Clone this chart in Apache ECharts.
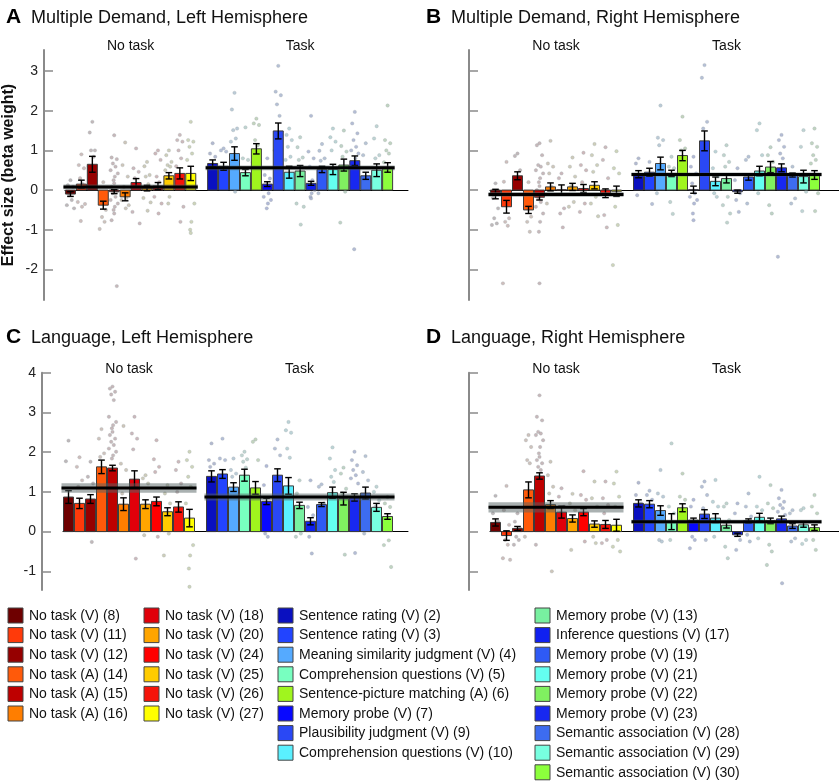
<!DOCTYPE html>
<html><head><meta charset="utf-8">
<script src="https://cdn.jsdelivr.net/npm/echarts@6/dist/echarts.min.js"></script>
<style>html,body{margin:0;padding:0;background:#fff}#c{width:839px;height:782px}</style>
</head><body><div id="c"></div>
<script>
const FONT = 'Liberation Sans, Arial, Helvetica, sans-serif';

// ---- categories & colours ----
const noTaskLabels = ['No task (V) (8)','No task (V) (11)','No task (V) (12)','No task (A) (14)','No task (A) (15)','No task (A) (16)',
  'No task (V) (18)','No task (V) (20)','No task (V) (24)','No task (V) (25)','No task (V) (26)','No task (V) (27)'];
const noTaskColors = ['#6e0000','#ff3a0a','#960000','#ff5a0a','#be0000','#ff7e00','#e0000a','#ffa500','#ff0000','#ffcc00','#f5140a','#ffff00'];
const taskLabels = ['Sentence rating (V) (2)','Sentence rating (V) (3)','Meaning similarity judgment (V) (4)','Comprehension questions (V) (5)',
  'Sentence-picture matching (A) (6)','Memory probe (V) (7)','Plausibility judgment (V) (9)','Comprehension questions (V) (10)',
  'Memory probe (V) (13)','Inference questions (V) (17)','Memory probe (V) (19)','Memory probe (V) (21)','Memory probe (V) (22)',
  'Memory probe (V) (23)','Semantic association (V) (28)','Semantic association (V) (29)','Semantic association (V) (30)'];
const taskColors = ['#0a10c0','#2244ff','#55aaff','#78ffc0','#a0f51e','#0808ff','#2a48f5','#5af0ff','#78f0a0','#1020f0','#2f5af5',
  '#64fff0','#80f060','#1828f0','#3d6cf0','#78ffe0','#8cff3c'];
const groupTitles = ['No task', 'Task'];
const yTicksMD = [-2, -1, 0, 1, 2, 3];
const yTicksLang = [-1, 0, 1, 2, 3, 4];
const yAxisTitle = 'Effect size (beta weight)';

// ---- A: Multiple Demand, Left ----
const mdLeftNoTask   = [-0.10, 0.15, 0.65, -0.38, -0.04, -0.17, 0.19, 0.05, 0.10, 0.36, 0.42, 0.42];
const mdLeftNoTaskSE = [0.06, 0.10, 0.20, 0.10, 0.05, 0.10, 0.10, 0.07, 0.09, 0.08, 0.14, 0.18];
const mdLeftTask     = [0.67, 0.60, 0.92, 0.44, 1.04, 0.15, 1.49, 0.45, 0.48, 0.17, 0.52, 0.52, 0.63, 0.74, 0.36, 0.50, 0.57];
const mdLeftTaskSE   = [0.09, 0.10, 0.17, 0.08, 0.13, 0.06, 0.20, 0.15, 0.14, 0.05, 0.08, 0.13, 0.15, 0.12, 0.09, 0.16, 0.12];
const mdLeftMeans    = [0.08, 0.56];
const mdLeftMeanSE   = [0.06, 0.06];
const mdLeftNoTaskDots = [
  [0.25,0.12,0.08,-0.13,-0.25,-0.38,-0.46],
  [0.9,0.63,0.55,0.3,0.15,-0.3,-0.35,-0.42,-0.78],
  [1.72,1.45,1.0,1.0,0.84,0.6,0.38,0.2],
  [0.2,-0.3,-0.5,-0.68,-0.8,-0.98],
  [1.38,0.82,0.78,0.67,0.59,0.5,0.42,0.34,0.25,0.17,0.08,-0.04,-0.08,-0.17,-0.25,-0.34,-0.42,-0.5,-0.59,-0.76,-2.42],
  [1.2,0.63,0.34,0.08,-0.2,-0.25,-0.38,-0.46],
  [1.05,0.55,0.46,0.3,0.1,-0.55,-0.84],
  [0.71,0.6,0.38,0.34,0.15,-0.2,-0.31,-0.52],
  [1.0,0.92,0.76,0.34,0.2,-0.17,-0.34,-0.59],
  [1.0,0.88,0.71,0.63,0.59,0.5,0.3,-0.17,-0.34],
  [1.39,1.26,1.22,1.0,0.8,0.6,-0.42,-0.8],
  [1.72,1.26,1.22,1.09,0.92,0.76,-0.34,-0.8,-1.0,-1.08]
];
const mdLeftTaskDots = [
  [1.18,0.92,0.84,0.5,0.3],
  [1.05,1.0,0.97,0.3,0.08],
  [2.45,2.03,1.55,1.51,1.3,1.22,0.6,-0.04],
  [1.58,0.8,0.76,0.25,0.1],
  [1.8,1.68,1.64,1.26,1.13,0.7],
  [0.8,0.38,0.29,0.08,-0.08,-0.17,-0.25,-0.34,-0.46],
  [3.13,2.48,2.39,2.16,1.87,1.0],
  [1.55,1.39,1.26,1.09,0.84,0.76],
  [1.33,1.08,0.82,0.76,0.08,-0.34,-0.42,-0.87],
  [1.87,0.97,0.8,0.59,0.25,0.08,0.0,-0.08,-0.17,-0.21],
  [1.16,0.99,0.8,0.74,0.3,-0.08],
  [1.55,1.33,1.22,1.0,0.08],
  [1.5,1.11,0.97,0.84,-0.04,-0.82],
  [1.97,1.68,1.43,1.26,1.09,1.0,0.92,0.8,-1.49],
  [1.18,0.88,0.2,0.13],
  [1.61,1.3,0.88,0.8,0.1],
  [2.13,1.26,1.18,1.0,0.92,0.7]
];

// ---- B: Multiple Demand, Right ----
const mdRightNoTask   = [-0.10, -0.42, 0.36, -0.50, -0.18, 0.08, 0.01, 0.08, 0.04, 0.12, -0.08, -0.03];
const mdRightNoTaskSE = [0.12, 0.16, 0.10, 0.09, 0.07, 0.10, 0.12, 0.09, 0.10, 0.09, 0.11, 0.13];
const mdRightTask     = [0.40, 0.45, 0.67, 0.42, 0.87, 0.01, 1.24, 0.22, 0.29, -0.04, 0.33, 0.48, 0.58, 0.56, 0.38, 0.34, 0.38];
const mdRightTaskSE   = [0.09, 0.10, 0.16, 0.08, 0.13, 0.09, 0.25, 0.11, 0.11, 0.04, 0.08, 0.12, 0.14, 0.10, 0.05, 0.16, 0.11];
const mdRightMeans    = [-0.11, 0.39];
const mdRightMeanSE   = [0.06, 0.05];
const mdRightNoTaskDots = [
  [0.17,-0.2,-0.46,-0.71,-0.84,-0.88],
  [0.71,0.21,-0.71,-0.8,-0.9,-2.35],
  [0.92,0.86,0.5,0.2],
  [0.2,-0.42,-0.67,-0.8,-1.05],
  [1.18,1.13,0.88,0.63,0.59,0.5,0.42,0.3,0.2,0.1,0.0,-0.1,-0.2,-0.3,-0.42,-0.59,-0.8,-1.05,-2.35],
  [1.24,0.67,0.59,0.42,0.08,-0.34],
  [0.42,0.3,-0.46,-0.59,-0.94],
  [0.82,0.59,0.34,0.1,-0.3,-0.42],
  [0.94,0.63,0.5,0.2,-0.34,-0.55],
  [1.16,0.88,0.63,0.46,-0.17,-0.34,-0.66],
  [1.08,0.76,0.3,-0.63,-0.94],
  [0.98,0.55,0.42,-0.42,-0.88,-1.89]
];
const mdRightTaskDots = [
  [0.8,0.67,0.3,-0.13],
  [0.71,0.2,-0.35],
  [2.13,1.32,1.26,1.13,0.5,-0.08],
  [0.84,0.59,0.55,-0.3,-0.6],
  [1.85,1.26,1.05,1.0,0.6],
  [0.84,0.59,0.42,0.17,-0.08,-0.17,-0.25,-0.34,-0.59,-0.76],
  [3.15,2.83,1.72,1.55],
  [0.97,0.55,0.34,-0.08,-0.17],
  [1.13,0.88,0.71,0.59,-0.17,-0.38,-0.59,-0.82],
  [0.55,0.25,-0.08,-0.25,-0.55],
  [0.84,0.76,0.2,-0.34],
  [1.68,1.51,0.88,-0.08],
  [1.08,0.88,0.71,-0.38,-0.59],
  [1.39,1.26,1.09,0.92,0.8,-1.68],
  [0.59,0.34,-0.21,-0.34],
  [1.51,1.09,-0.04,-0.53],
  [1.55,1.18,1.09,0.88,0.76,0.67,-0.08,-0.53]
];

// ---- C: Language, Left ----
const langLeftNoTask   = [0.87, 0.71, 0.82, 1.63, 1.60, 0.69, 1.32, 0.69, 0.76, 0.50, 0.62, 0.34];
const langLeftNoTaskSE = [0.16, 0.13, 0.11, 0.17, 0.07, 0.16, 0.21, 0.11, 0.11, 0.10, 0.13, 0.22];
const langLeftTask     = [1.39, 1.45, 1.12, 1.42, 1.10, 0.76, 1.42, 1.15, 0.66, 0.26, 0.68, 0.98, 0.83, 0.86, 0.97, 0.61, 0.38];
const langLeftTaskSE   = [0.14, 0.11, 0.11, 0.15, 0.16, 0.08, 0.16, 0.21, 0.08, 0.09, 0.05, 0.14, 0.16, 0.09, 0.15, 0.10, 0.07];
const langLeftMeans    = [1.10, 0.87];
const langLeftMeanSE   = [0.12, 0.09];
const langLeftNoTaskDots = [
  [2.29,1.77,0.58],
  [1.87,1.63,1.29,1.13],
  [1.76,1.38,1.21,0.5,-0.26],
  [2.58,2.34,1.97,1.88],
  [3.65,3.6,3.52,3.45,3.31,2.89,2.76,2.68,2.6,2.51,2.43,2.34,2.26,2.18,2.09,2.01,1.92,1.84],
  [2.66,1.71,1.55,0.96],
  [2.89,2.47,2.34,2.07,-0.68],
  [1.42,1.34,1.21,-0.09],
  [2.3,1.82,1.63,1.5,-0.13],
  [1.17,0.96,0.71,0.29,-0.05,-0.6],
  [1.76,1.55,1.21,1.0,0.16],
  [2.01,1.8,1.63,1.38,1.13,0.71,-0.34,-0.6,-0.93,-1.39]
];
const langLeftTaskDots = [
  [2.22,1.8,1.71,1.63],
  [2.34,1.84,1.8,1.2],
  [1.84,1.55,1.46,1.38],
  [2.01,1.92,1.82,1.76,1.61],
  [2.32,2.26,1.8],
  [1.65,1.17,0.71,-0.05,-0.13],
  [2.32,2.09,1.92],
  [2.76,2.55,2.49,2.09,1.86],
  [1.29,0.96,0.58,0.37,-0.05,-0.13],
  [1.29,0.62,0.41,-0.13,-0.55],
  [1.19,1.13,0.71,0.29],
  [2.12,1.84,1.55,1.38,1.25],
  [1.61,1.46,1.08,0.96,-0.58],
  [2.01,1.8,1.67,1.55,1.42,1.34,1.21,-0.54],
  [1.9,1.5,1.29,-0.05],
  [1.13,1.0,0.79,0.62],
  [0.87,0.71,0.62,0.24,-0.22,-0.34,-0.89]
];

// ---- D: Language, Right ----
const langRightNoTask   = [0.23, -0.10, 0.08, 1.05, 1.40, 0.68, 0.49, 0.33, 0.49, 0.19, 0.18, 0.16];
const langRightNoTaskSE = [0.09, 0.12, 0.05, 0.20, 0.08, 0.10, 0.15, 0.09, 0.09, 0.08, 0.10, 0.15];
const langRightTask     = [0.71, 0.69, 0.53, 0.25, 0.60, 0.29, 0.44, 0.34, 0.16, -0.08, 0.27, 0.36, 0.27, 0.32, 0.14, 0.17, 0.10];
const langRightTaskSE   = [0.09, 0.09, 0.12, 0.20, 0.10, 0.05, 0.11, 0.11, 0.07, 0.04, 0.05, 0.10, 0.07, 0.07, 0.06, 0.06, 0.07];
const langRightMeans    = [0.61, 0.25];
const langRightMeanSE   = [0.13, 0.05];
const langRightNoTaskDots = [
  [0.9,0.46,0.25,0.1],
  [1.15,0.54,0.17,-0.21,-0.33,-0.67,-0.71],
  [0.46,0.25,0.08,-0.13,-0.21,-0.33],
  [2.43,2.3,2.13,1.8,1.72,-0.13],
  [3.43,2.89,2.8,2.51,2.47,2.43,2.3,2.13,1.97,1.88,1.8,1.72,1.63,1.55,-0.33],
  [1.76,1.42,1.13,0.96,-1.0],
  [1.09,0.88,0.63,0.46,0.13],
  [0.95,0.71,0.54,-0.46],
  [1.52,0.92,0.8,0.13,-0.25],
  [1.26,0.84,0.63,-0.13,-0.29],
  [1.26,0.84,0.67,0.46,-0.21,-0.29],
  [1.51,1.21,0.88,0.63,-0.21,-0.38,-0.5]
];
const langRightTaskDots = [
  [1.23,0.92,0.71,0.3],
  [1.03,0.92,0.8,0.2],
  [1.55,0.96,0.88,-0.21,-0.25],
  [2.22,0.63,0.46,-0.21],
  [1.46,0.88,0.8,0.3],
  [0.8,0.63,0.13,-0.13,-0.21,-0.42],
  [1.26,1.13,0.92,0.59,-0.21],
  [1.3,0.75,0.63,-0.13],
  [0.71,0.63,0.29,-0.38,-0.67],
  [0.71,0.46,-0.21,-0.46],
  [0.96,0.63,0.38,-0.08,-0.25],
  [1.38,0.63,0.54,-0.17],
  [1.17,0.71,0.59,-0.33,-0.5,-0.84],
  [1.05,0.84,0.75,0.67,0.59,0.5,0.42,-1.3],
  [0.54,0.46,-0.17,-0.25],
  [0.59,0.54,-0.21,-0.31],
  [0.92,0.63,0.46,-0.21,-0.46]
];

// ---- layout ----
const SLOT = 11;          // px per bar slot
const GAP_SLOTS = 1;      // empty slot between groups
const BAR_W = 10;
const panels = [
  {letter:'A', title:'Multiple Demand, Left Hemisphere', left:63, right:431, top:50, bottom:482, axisX:42, yMin:-2.77, yMax:3.53, ticks:yTicksMD, labels:true, tx:6, ty:7,
   nt:mdLeftNoTask, ntSE:mdLeftNoTaskSE, t:mdLeftTask, tSE:mdLeftTaskSE, means:mdLeftMeans, meanSE:mdLeftMeanSE, ntDots:mdLeftNoTaskDots, tDots:mdLeftTaskDots},
  {letter:'B', title:'Multiple Demand, Right Hemisphere', left:490, right:0, top:50, bottom:482, axisX:469, yMin:-2.77, yMax:3.53, ticks:yTicksMD, labels:false, tx:426, ty:7,
   nt:mdRightNoTask, ntSE:mdRightNoTaskSE, t:mdRightTask, tSE:mdRightTaskSE, means:mdRightMeans, meanSE:mdRightMeanSE, ntDots:mdRightNoTaskDots, tDots:mdRightTaskDots},
  {letter:'C', title:'Language, Left Hemisphere', left:63, right:431, top:372.7, bottom:192, axisX:42, yMin:-1.47, yMax:4, ticks:yTicksLang, labels:true, tx:6, ty:327,
   nt:langLeftNoTask, ntSE:langLeftNoTaskSE, t:langLeftTask, tSE:langLeftTaskSE, means:langLeftMeans, meanSE:langLeftMeanSE, ntDots:langLeftNoTaskDots, tDots:langLeftTaskDots},
  {letter:'D', title:'Language, Right Hemisphere', left:490, right:0, top:372.7, bottom:192, axisX:469, yMin:-1.47, yMax:4, ticks:yTicksLang, labels:false, tx:426, ty:327,
   nt:langRightNoTask, ntSE:langRightNoTaskSE, t:langRightTask, tSE:langRightTaskSE, means:langRightMeans, meanSE:langRightMeanSE, ntDots:langRightNoTaskDots, tDots:langRightTaskDots}
];
const W = 839, H = 782;

function hexRgb(h){h=h.replace('#','');return [parseInt(h.slice(0,2),16),parseInt(h.slice(2,4),16),parseInt(h.slice(4,6),16)];}
function dotColor(hex){const c=hexRgb(hex), g=[178,188,192], t=0.15;
  return 'rgba('+c.map((v,i)=>Math.round(v*t+g[i]*(1-t))).join(',')+',0.75)';}

const chart = echarts.init(document.getElementById('c'), null, {renderer:'canvas'});
const grid=[], xAxis=[], yAxis=[], series=[];
const taskStart = noTaskLabels.length + GAP_SLOTS;

panels.forEach((p, pi) => {
  const gw = W - p.left - p.right;
  grid.push({left:p.left, right:p.right, top:p.top, bottom:p.bottom, containLabel:false});
  xAxis.push({gridIndex:pi, type:'value', min:-0.5, max:-0.5 + gw/SLOT,
    axisLine:{show:true, onZero:true, lineStyle:{color:'#000', width:1}},
    axisTick:{show:false}, axisLabel:{show:false}, splitLine:{show:false}});
  yAxis.push({gridIndex:pi, type:'value', min:p.yMin, max:p.yMax, offset:p.left - p.axisX,
    name: pi === 0 ? yAxisTitle : '', nameLocation:'middle', nameGap:27, nameRotate:90,
    nameTextStyle:{fontFamily:FONT, fontSize:16, fontWeight:'bold', color:'#111'},
    axisLine:{show:true, onZero:false, lineStyle:{color:'#8a8a8a', width:2}},
    axisTick:{show:true, inside:true, length:9, customValues:p.ticks, lineStyle:{color:'#8a8a8a', width:1.5}},
    axisLabel:{show:p.labels, customValues:p.ticks, fontFamily:FONT, fontSize:14, color:'#222', margin:6},
    splitLine:{show:false}});

  // dots
  const dotData = [];
  p.ntDots.forEach((arr,i)=>arr.forEach((v,k)=>dotData.push({value:[i, v, k], itemStyle:{color:dotColor(noTaskColors[i])}})));
  p.tDots.forEach((arr,i)=>arr.forEach((v,k)=>dotData.push({value:[taskStart+i, v, k], itemStyle:{color:dotColor(taskColors[i])}})));
  const JIT = [0,-2.6,2.6,-1.3,1.3,-3.6,3.6,0.6,-0.6];
  series.push({type:'custom', xAxisIndex:pi, yAxisIndex:pi, z:1, silent:true, data:dotData, encode:{x:0,y:1},
    renderItem:(params, api)=>{const c=api.coord([api.value(0), api.value(1)]);
      return {type:'circle', shape:{cx:c[0]+JIT[api.value(2)%9], cy:c[1], r:1.7},
        style:{fill:api.visual('color'), stroke:'rgba(150,160,165,0.55)', lineWidth:0.5}};}});

  // bars
  const barData = [];
  p.nt.forEach((v,i)=>barData.push({value:[i, v], itemStyle:{color:noTaskColors[i]}}));
  p.t.forEach((v,i)=>barData.push({value:[taskStart+i, v], itemStyle:{color:taskColors[i]}}));
  series.push({type:'custom', xAxisIndex:pi, yAxisIndex:pi, z:2, silent:true, data:barData, encode:{x:0,y:1},
    renderItem:(params, api)=>{const a=api.coord([api.value(0),0]), b=api.coord([api.value(0), api.value(1)]);
      return {type:'rect', shape:{x:a[0]-BAR_W/2, y:Math.min(a[1],b[1]), width:BAR_W, height:Math.abs(b[1]-a[1])},
        style:{fill:api.visual('color'), stroke:'#3c3c3c', lineWidth:1}};}});

  // error bars
  const errData = [];
  p.nt.forEach((v,i)=>errData.push([i, v, p.ntSE[i]]));
  p.t.forEach((v,i)=>errData.push([taskStart+i, v, p.tSE[i]]));
  series.push({type:'custom', xAxisIndex:pi, yAxisIndex:pi, z:3, silent:true, data:errData, encode:{x:0,y:1},
    renderItem:(params, api)=>{const x=api.value(0), v=api.value(1), s=api.value(2);
      const hi=api.coord([x, v+s]), lo=api.coord([x, v-s]); const cw=3.3;
      const st={stroke:'#000', lineWidth:1.4};
      return {type:'group', children:[
        {type:'line', shape:{x1:hi[0], y1:hi[1], x2:lo[0], y2:lo[1]}, style:st},
        {type:'line', shape:{x1:hi[0]-cw, y1:hi[1], x2:hi[0]+cw, y2:hi[1]}, style:st},
        {type:'line', shape:{x1:lo[0]-cw, y1:lo[1], x2:lo[0]+cw, y2:lo[1]}, style:st}]};}});

  // group means with SE band
  const meanData = [
    [0, noTaskLabels.length-1, p.means[0], p.meanSE[0]],
    [taskStart, taskStart+taskLabels.length-1, p.means[1], p.meanSE[1]]];
  series.push({type:'custom', xAxisIndex:pi, yAxisIndex:pi, z:4, silent:true, data:meanData, encode:{x:[0,1],y:2},
    renderItem:(params, api)=>{const x0=api.coord([api.value(0), api.value(2)]), x1=api.coord([api.value(1), api.value(2)]);
      const hi=api.coord([api.value(0), api.value(2)+api.value(3)]), lo=api.coord([api.value(0), api.value(2)-api.value(3)]);
      const l=x0[0]-7, r=x1[0]+7;
      return {type:'group', children:[
        {type:'rect', shape:{x:l, y:hi[1], width:r-l, height:lo[1]-hi[1]}, style:{fill:'rgba(85,100,100,0.5)'}},
        {type:'line', shape:{x1:l, y1:x0[1], x2:r, y2:x0[1]}, style:{stroke:'#000', lineWidth:3}}]};}});
});

chart.setOption({animation:false, backgroundColor:'#fff', grid, xAxis, yAxis, series});

// ---- text: panel titles, group titles, legend ----
const graphic = [];
panels.forEach((p, pi) => {
  graphic.push({type:'text', left:p.tx, top:p.ty, style:{text:p.letter, font:'bold 21px '+FONT, fill:'#000'}});
  graphic.push({type:'text', left:p.tx+25, top:p.ty+2, style:{text:p.title, font:'18px '+FONT, fill:'#111'}});
  const yTop = chart.convertToPixel({yAxisIndex:pi}, p.yMax);
  const labelY = pi < 2 ? yTop - 4 : yTop - 4;
  const cx0 = chart.convertToPixel({xAxisIndex:pi}, (noTaskLabels.length-1)/2);
  const cx1 = chart.convertToPixel({xAxisIndex:pi}, taskStart + (taskLabels.length-1)/2);
  [cx0, cx1].forEach((cx, gi)=>graphic.push({type:'text', x:cx, y:labelY, style:{text:groupTitles[gi], font:'14px '+FONT, fill:'#111', align:'center', verticalAlign:'middle'}}));
});
const legendCols = [
  {x:8, items:noTaskLabels.slice(0,6), colors:noTaskColors.slice(0,6)},
  {x:144, items:noTaskLabels.slice(6), colors:noTaskColors.slice(6)},
  {x:278, items:taskLabels.slice(0,8), colors:taskColors.slice(0,8)},
  {x:535, items:taskLabels.slice(8), colors:taskColors.slice(8)}];
legendCols.forEach(col=>col.items.forEach((lab,i)=>{
  const y = 608 + i*19.6;
  graphic.push({type:'rect', x:col.x, y:y, shape:{x:0,y:0,width:15,height:15}, style:{fill:col.colors[i], stroke:'#444', lineWidth:1}});
  graphic.push({type:'text', x:col.x+21, y:y+8, style:{text:lab, font:'14px '+FONT, fill:'#111', verticalAlign:'middle'}});
}));
chart.setOption({graphic});
</script></body></html>
